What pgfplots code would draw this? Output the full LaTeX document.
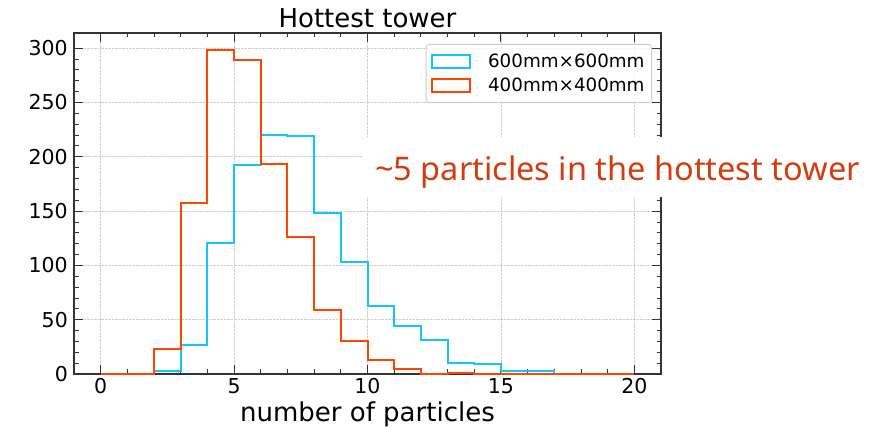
\documentclass[border=0pt]{standalone}
\usepackage{fontspec}
\setmainfont{DejaVu Sans}
\newfontfamily\annfont{Noto Sans}
\usepackage{pgfplots}
\pgfplotsset{compat=1.18}
\definecolor{hblue}{RGB}{20,195,255}
\definecolor{horange}{RGB}{255,69,0}
\definecolor{anncol}{RGB}{209,61,17}
\definecolor{gridgray}{RGB}{205,205,205}
\begin{document}
\begin{tikzpicture}[x=1pt,y=1pt]
\path[use as bounding box] (0,0) rectangle (871,428);
\begin{axis}[
  at={(74pt,54pt)}, anchor=south west,
  scale only axis, width=587pt, height=341pt,
  xmin=-1, xmax=21, ymin=0, ymax=314,
  xtick={0,5,10,15,20}, ytick={0,50,...,300},
  minor x tick num=4, minor y tick num=4,
  tick align=inside, xtick pos=both, ytick pos=both,
  major tick length=9pt, minor tick length=4.5pt,
  tick style={black!80, line width=0.9pt},
  axis line style={black!80, line width=1.2pt},
  grid=major, major grid style={densely dotted, gridgray, line width=0.7pt},
  /pgf/number format/assume math mode=true,
  ticklabel style={font=\fontsize{20.5}{24}\selectfont},
  xticklabel style={inner sep=0pt, yshift=-4.5pt},
  yticklabel style={inner sep=0pt, xshift=-6pt},
  title={Hottest tower},
  every axis title shift=0pt,
  title style={font=\fontsize{26}{30}\selectfont, at={(0.5,1)}, anchor=base, yshift=5pt, inner sep=0pt},
  xlabel={number of particles},
  xlabel style={font=\fontsize{26}{30}\selectfont, at={(axis description cs:0.5,0)}, anchor=base, yshift=-47.5pt, inner sep=0pt},
  clip=false,
  legend cell align=left,
  legend style={at={(1,1)}, anchor=north east, xshift=-9pt, yshift=-11pt,
    draw=black!20, line width=0.8pt, rounded corners=3pt, fill=white,
    fill opacity=0.8, text opacity=1, font=\fontsize{18.3}{22}\selectfont,
    inner xsep=5pt, inner ysep=7.7pt, row sep=4.6pt,
    /tikz/every odd column/.style={column sep=15pt}},
  legend image code/.code={\draw[#1, sharp corners, line width=2pt] (0pt,-6.5pt) rectangle (38pt,6.5pt);},
]
\addplot[const plot, hblue, line width=2pt] coordinates {
  (0,0)(1,0)(2,3)(3,27)(4,121)(5,192)(6,220)(7,219)(8,148)(9,103)(10,63)
  (11,44)(12,31)(13,10)(14,9)(15,3)(16,3)(17,0)(18,0)(19,0)(20,0)};
\addlegendentry{600mm×600mm}
\addplot[const plot, horange, line width=2pt] coordinates {
  (0,0)(1,0)(2,23)(3,157)(4,298)(5,289)(6,193)(7,126)(8,59)(9,30)(10,13)
  (11,5)(12,0)(13,1)(14,0)(15,0)(16,0)(17,0)(18,0)(19,0)(20,0)};
\addlegendentry{400mm×400mm}
\end{axis}
\fill[white] (362,231) rectangle (871,291);
\node[anchor=base west, inner sep=0pt, text=anncol, font=\annfont\fontsize{32.5}{38}\selectfont]
  at (375,247.3) {\textasciitilde 5 particles in the hottest tower};
\end{tikzpicture}
\end{document}
